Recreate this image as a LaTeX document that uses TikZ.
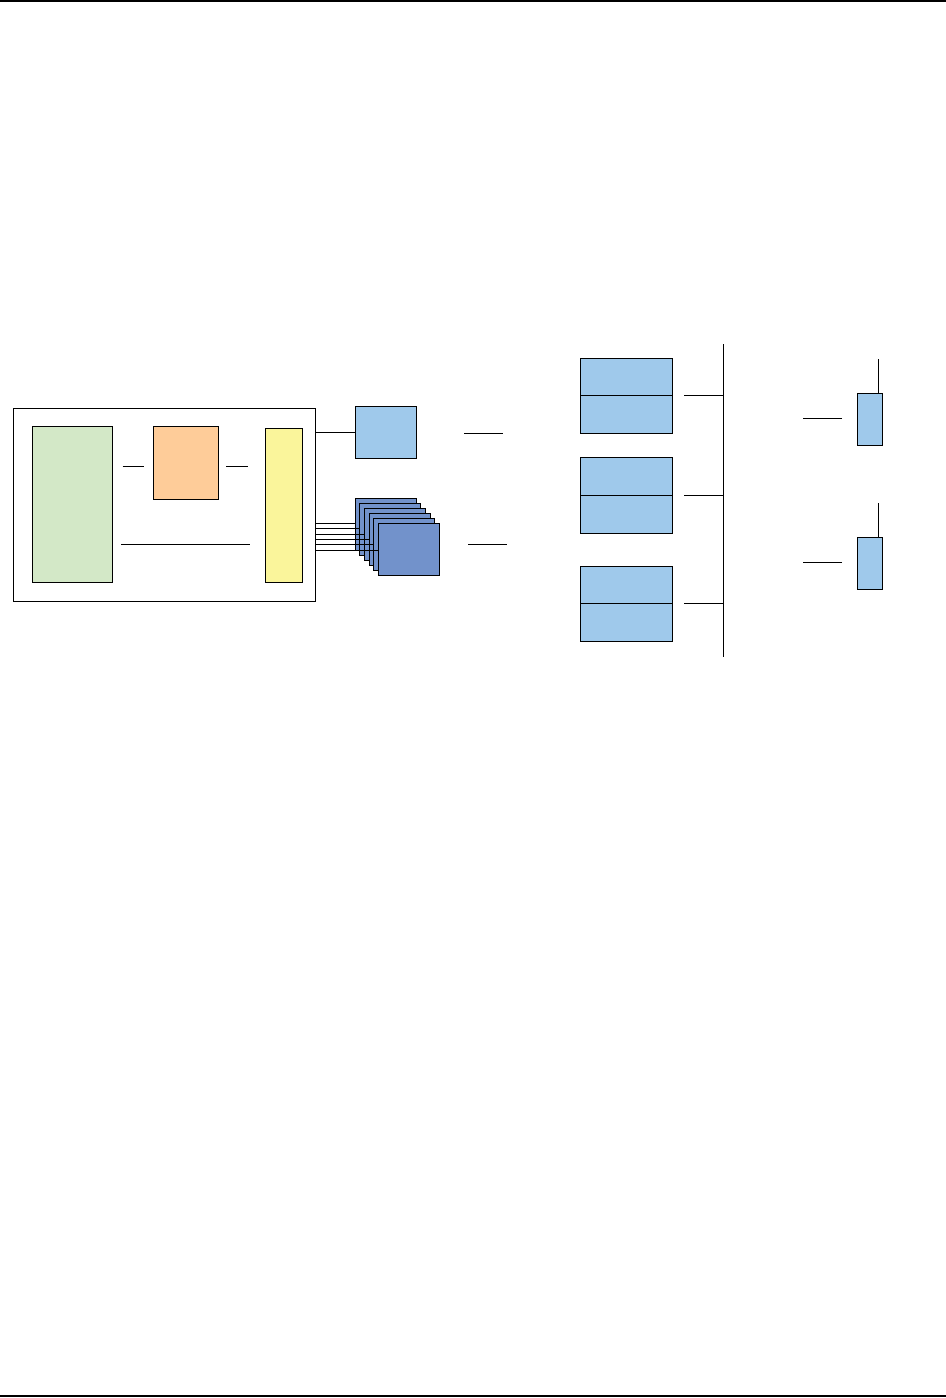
\documentclass[tikz,border=0pt]{standalone}
\usepackage{xcolor}
\usepackage{tikz}
\usetikzlibrary{calc}
\definecolor{hostGreen}{RGB}{211,232,199}
\definecolor{hostOrange}{RGB}{254,204,153}
\definecolor{hostYellow}{RGB}{250,245,155}
\definecolor{unitBlue}{RGB}{159,201,235}
\definecolor{cardBlue}{RGB}{114,146,203}

\begin{document}
\begin{tikzpicture}[
    x=0.5pt, y=-0.5pt,
    line width=0.5pt,
    base/.style={rectangle, draw=black, line width=0.5pt, inner sep=0pt, outer sep=0pt},
    hostbox/.style={base, fill=hostGreen},
    corebox/.style={base, fill=hostOrange},
    portbox/.style={base, fill=hostYellow},
    unitbox/.style={base, fill=unitBlue},
    cardbox/.style={base, fill=cardBlue, minimum width=30.5pt, minimum height=26pt},
    cellbox/.style={base, fill=unitBlue, minimum width=46pt},
    tagbox/.style={base, fill=unitBlue, minimum width=12.5pt, minimum height=26pt},
    rule/.style={line width=1pt},
    ]
    \useasboundingbox (0,0) rectangle (946,1398);
    % Page rules
    \draw[rule] (0,1) -- (946,1);
    \draw[rule] (0,1396.3) -- (946,1396.3);
    % Host board
    \node[base, minimum width=151pt, minimum height=96.5pt] (board) at (164,504.5) {};
    \node[hostbox, minimum width=40pt, minimum height=78pt]   (mem)  at (72.3,504.3)  {};
    \node[corebox, minimum width=32.5pt, minimum height=36.5pt] (cpu) at (185.8,462.8) {};
    \node[portbox, minimum width=18.5pt, minimum height=77pt] (bus)  at (283.8,505.3)  {};
    \draw ($(mem.east |- cpu)+(10.4,3.5)$) -- ++(21.6,0);
    \draw ($(cpu.east)+(7.7,3.5)$) -- ++(21.7,0);
    \draw ($(mem.east)+(8.7,40)$) -- ++(128.7,0);
    % Single unit
    \node[unitbox, minimum width=30.5pt, minimum height=26pt] (unit) at (385.8,432.3) {};
    \draw (board.east |- unit.west) -- (unit.west);
    \coordinate (g1) at (464.3,433.3);
    \draw (g1) -- ++(39,0);
    % Card stack
    \foreach \i in {0,...,5} {
        \node[cardbox] (card\i) at ({385.8+4.6*\i},{524.3+5*\i}) {};
        \coordinate (t\i) at (0,{523.3+5.4*\i});
        \draw (board.east |- t\i) -- (card\i.west |- t\i);
    }
    \coordinate (g2) at (468.3,544.3);
    \draw (g2) -- ++(38.7,0);
    % Cells on the right bus
    \coordinate (busTop) at (723.3,344.3);
    \coordinate (busBot) at (723.3,657.3);
    \draw (busTop) -- (busBot);
    \node[cellbox, minimum height=37.5pt] (cellA) at (626.3,395.8) {};
    \node[cellbox, minimum height=38pt]   (cellB) at (626.3,495.3) {};
    \node[cellbox, minimum height=37.5pt] (cellC) at (626.3,603.8) {};
    \foreach \c in {cellA,cellB,cellC} {
        \draw (\c.west) -- (\c.east);
        \draw ($(\c.east)+(11.7,0)$) -- (\c.east -| busTop);
    }
    % Tags
    \node[tagbox] (tagA) at (869.8,419.3) {};
    \node[tagbox] (tagB) at (869.8,563.3) {};
    \foreach \t in {tagA,tagB} {
        \draw ($(\t.north east)+(-4,0)$) -- ++(0,-34);
        \draw ($(\t.west)+(-15.3,-1)$) -- ++(-39,0);
    }
\end{tikzpicture}
\end{document}
